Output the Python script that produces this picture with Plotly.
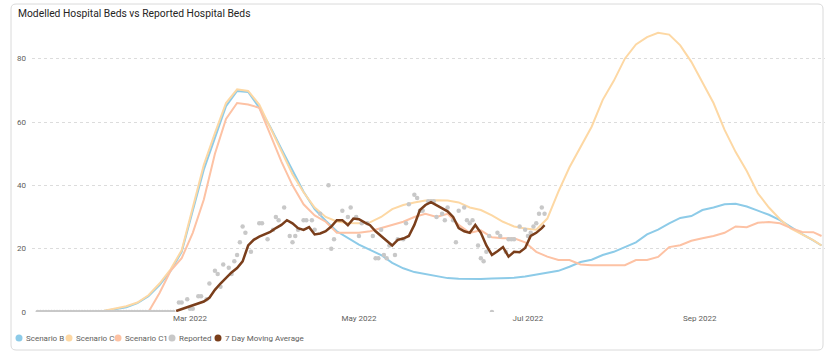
import pandas as pd
import plotly.graph_objects as go

# ---------------- data ----------------
# Scenario series: one value every 4 days from 2022-01-05 to 2022-10-12, plus 2022-10-15
scen_dates = list(pd.date_range("2022-01-05", "2022-10-12", freq="4D")) + [pd.Timestamp("2022-10-15")]

scenario_b = [0, 0, 0, 0, 0, 0,
              0.3, 0.8, 1.5, 2.8, 5, 8.5, 13, 19,
              32, 45, 55, 65, 69.8, 69.5, 64.5, 58.4, 51.5, 44.7,
              38, 32.5, 28.8, 25.5, 23.5, 21.3, 19.6, 18, 15.5, 13.8,
              12.6, 11.9, 11.2, 10.7, 10.5, 10.4, 10.4, 10.6, 10.7, 10.8,
              11.2, 11.8, 12.4, 13, 14.3, 15.8, 16.5, 18, 19, 20.5,
              22, 24.5, 26, 28, 29.7, 30.3, 32.2, 33, 34, 34.2,
              33.3, 32, 30.7, 29, 26.7, 24.6, 22.6,
              21]

scenario_c = [0, 0, 0, 0, 0, 0,
              0.4, 1, 1.8, 3, 5.3, 9, 13.5, 19.5,
              33, 46.5, 56.5, 66, 70.3, 69.8, 65.5, 58, 50.5, 43.5,
              37.8, 33, 30, 28.6, 28.1, 28, 28.3, 30, 32.5, 33.8,
              34.6, 35.2, 35.3, 35.2, 34.6, 33, 32.2, 30.5, 28.5, 27,
              26.4, 26, 29.5, 38, 45.7, 52, 58.5, 67, 73, 80,
              84.5, 86.8, 88.2, 87.6, 84.2, 79, 72.5, 66, 57.5, 50.5,
              44.5, 37.5, 33, 29.3, 26.3, 24.4, 22.7,
              21]

scenario_c1 = [0, 0, 0, 0, 0, 0, 0, 0, 0, 0,
               0, 6, 13, 17,
               25, 35.5, 50, 61, 66, 65.5, 64.5, 56, 47.5, 40,
               34, 30.5, 28.5, 25, 25, 25, 25.5, 26.5, 27.5, 28.5,
               30, 31, 30, 31, 27.5, 25, 25.8, 23.6, 23.3, 23.3,
               22, 19, 17.5, 16.4, 16.4, 15, 14.8, 14.8, 14.8, 14.8,
               16.4, 16.4, 17.4, 20.5, 21.1, 22.5, 23.3, 24, 25, 27,
               26.8, 28.2, 28.4, 28, 26.5, 25.3, 25.2,
               24]

# Reported daily beds (zeros before the first case, then reported days)
reported_zero_dates = list(pd.date_range("2022-01-05", "2022-02-23", freq="D"))
reported_zero_values = [0, 0, 0, 0, 0, 0, 0, 0, 0, 0,
                        0, 0, 0, 0, 0, 0, 0, 0, 0, 0,
                        0, 0, 0, 0, 0, 0, 0, 0, 0, 0,
                        0, 0, 0, 0, 0, 0, 0, 0, 0, 0,
                        0, 0, 0, 0, 0, 0, 0, 0, 0, 0]
reported_day_of_year = [55, 56, 58, 59, 60, 62, 63, 65, 66, 68, 69, 70, 71, 73, 74, 75, 76, 77,
                        78, 79, 81, 84, 85, 87, 89, 90, 91, 93, 95, 96, 97, 98, 100, 101, 103,
                        104, 106, 109, 110, 111, 114, 116, 117, 119, 120, 121, 123, 125, 126,
                        127, 128, 129, 130, 131, 133, 134, 136, 137, 138, 140, 141, 142, 143,
                        145, 146, 147, 148, 150, 151, 152, 154, 155, 156, 158, 159, 160, 161,
                        163, 164, 165, 166, 167, 168, 170, 171, 173, 174, 175, 176, 178, 180,
                        181, 182, 183, 184, 185, 186, 187]
reported_values = [3, 3, 4, 1, 1, 5, 5, 4, 9, 13, 12, 8, 15, 14, 12, 16, 18, 22,
                   27, 25, 19, 28, 28, 23, 26, 30, 29, 33, 24, 22, 24, 26, 29, 29, 29,
                   26, 31, 40, 20, 23, 32, 30, 33, 30, 24, 28, 28, 24, 17,
                   17, 26, 18, 17, 21, 18, 23, 23, 28, 34, 37, 36, 32, 32,
                   35, 35, 35, 30, 31, 29, 33, 29, 22, 32, 33, 29, 28, 29,
                   21, 17, 16, 19, 24, 0, 25, 24, 19, 23, 23, 23, 27, 26,
                   24, 25, 27, 28, 31, 33, 31]

# 7 day moving average: every 2 days from day 54 to 186, plus day 187
ma_day_of_year = list(range(54, 187, 2)) + [187]
ma_values = [0.3, 0.9, 1.6, 2.1, 2.9, 3.3, 4.5, 7, 9, 10.8, 12.5, 13.9, 16, 21,
             22.8, 23.8, 24.5, 25.3, 26.5, 27.5, 29, 28, 26.5, 25.9, 26.8, 24.5,
             24.8, 25.5, 27, 29, 29, 27.4, 29.5, 29.3, 28.3, 27.4, 25.5, 24, 22.7,
             21, 22.8, 23.2, 24, 27.5, 32.2, 33.8, 34.7, 33.8, 32.8, 31.8, 30,
             26.5, 25.5, 25, 27.5, 25, 21, 18, 19.2, 20.5, 17.5, 19, 18.9, 20.2,
             24, 25, 26.5, 27.4]

y_ticks = [0, 20, 40, 60, 80]
series_names = ["Scenario B", "Scenario C", "Scenario C1", "Reported", "7 Day Moving Average"]
colors = ["#8DCBE8", "#FDD8A4", "#FDC2A4", "#C8C8C8", "#7A3E1B"]

# ---------------- figure ----------------
base = pd.Timestamp("2022-01-01")
rep_dates = reported_zero_dates + [base + pd.Timedelta(days=d) for d in reported_day_of_year]
rep_vals = reported_zero_values + reported_values
ma_dates = [base + pd.Timedelta(days=d) for d in ma_day_of_year]

fig = go.Figure()
for name, vals, col in [(series_names[0], scenario_b, colors[0]),
                        (series_names[1], scenario_c, colors[1]),
                        (series_names[2], scenario_c1, colors[2])]:
    fig.add_trace(go.Scatter(x=scen_dates, y=vals, name=name, mode="lines",
                             line=dict(color=col, width=2), showlegend=False))
fig.add_trace(go.Scatter(x=rep_dates, y=rep_vals, name=series_names[3], mode="markers",
                         marker=dict(color=colors[3], size=4.5), showlegend=False))
fig.add_trace(go.Scatter(x=ma_dates, y=ma_values, name=series_names[4], mode="lines",
                         line=dict(color=colors[4], width=2.5), showlegend=False))

W, H = 825, 359
L, R, T, B = 32, 0, 27, 47
PW, PH = W - L - R, H - T - B


def px(xp):
    return (xp - L) / PW


def py(yp):
    return (H - B - yp) / PH


font = "Roboto, 'Noto Sans', sans-serif"
annotations = [dict(text="Modelled Hospital Beds vs Reported Hospital Beds", xref="paper", yref="paper",
                    x=px(16), y=py(13), xanchor="left", yanchor="middle", showarrow=False,
                    font=dict(family=font, size=10.3, color="#252423"))]
shapes = []
legend_circles = [19, 69, 118, 172, 218]
for name, col, cx in zip(series_names, colors, legend_circles):
    shapes.append(dict(type="circle", xref="paper", yref="paper", x0=px(cx - 3.5), x1=px(cx + 3.5),
                       y0=py(338 + 3.5), y1=py(338 - 3.5), fillcolor=col, line=dict(width=0)))
    annotations.append(dict(text=name, xref="paper", yref="paper", x=px(cx + 4.5), y=py(338),
                            xanchor="left", yanchor="middle", showarrow=False,
                            font=dict(family=font, size=8, color="#605E5C")))

# outer visual border with rounded corners
x0, x1, y0, y1, r = 11, 823, 4, 350, 5
rx, ry = r / PW, r / PH
path = (f"M {px(x0)+rx},{py(y0)} L {px(x1)-rx},{py(y0)} Q {px(x1)},{py(y0)} {px(x1)},{py(y0)-ry} "
        f"L {px(x1)},{py(y1)+ry} Q {px(x1)},{py(y1)} {px(x1)-rx},{py(y1)} "
        f"L {px(x0)+rx},{py(y1)} Q {px(x0)},{py(y1)} {px(x0)},{py(y1)+ry} "
        f"L {px(x0)},{py(y0)-ry} Q {px(x0)},{py(y0)} {px(x0)+rx},{py(y0)} Z")
shapes.append(dict(type="path", xref="paper", yref="paper", path=path,
                   line=dict(color="#DADADA", width=1), layer="below"))

fig.update_layout(
    width=W, height=H, margin=dict(l=L, r=R, t=T, b=B),
    paper_bgcolor="white", plot_bgcolor="white",
    showlegend=False, annotations=annotations, shapes=shapes,
    font=dict(family=font, size=8, color="#605E5C"),
    xaxis=dict(type="date", range=["2022-01-02 23:00", "2022-10-16 06:00"],
               dtick="M2", tick0="2022-01-01", tickformat="%b %Y", showgrid=False,
               zeroline=False, showline=False, ticks="",
               tickfont=dict(family=font, size=8, color="#605E5C")),
    yaxis=dict(range=[0, 90], tickvals=y_ticks, showgrid=True, gridcolor="#DCDCDC",
               griddash="dot", gridwidth=1, zeroline=False, showline=False, ticks="",
               ticklabelstandoff=5,
               tickfont=dict(family=font, size=8, color="#605E5C")),
)

fig.write_html("out.html", config={"displayModeBar": False},
               post_script="document.body.style.margin='0px';")
